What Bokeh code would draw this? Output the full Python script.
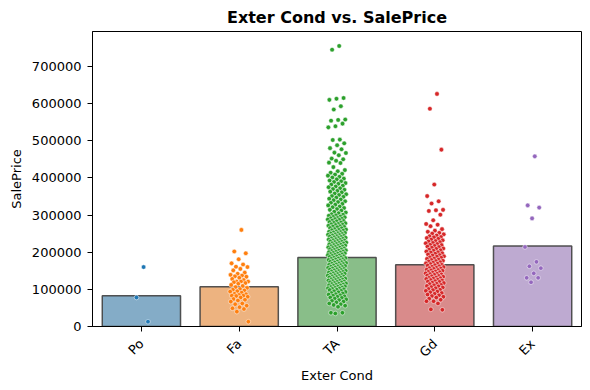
import math
import numpy as np
from bokeh.plotting import figure
from bokeh.models import ColumnDataSource, FixedTicker, Range1d, NumeralTickFormatter
from bokeh.embed import file_html
from bokeh.resources import INLINE

# ---- data (SalePrice values in thousands) ----
categories = ["Po", "Fa", "TA", "Gd", "Ex"]
mean_price_k = [82.6, 106.8, 186.0, 166.0, 217.0]

po_k = [160, 78, 13]

fa_k = [260, 202, 197, 181, 170, 167, 161, 160, 155, 151, 145, 142, 139, 137, 135,
        134, 131, 128, 125, 121, 121, 121, 119, 117, 115, 112, 109, 106, 104, 101,
        99, 97, 95, 94, 91, 88, 87, 85, 83, 83, 82, 80, 78, 74, 72, 70, 67, 62, 60,
        56, 52, 49, 47, 40, 13]

ta_k = [755, 745, 615, 613, 610, 593, 584, 557, 556, 554, 546, 539, 536,
        503, 502, 493, 488, 480, 477, 468, 467, 461, 452, 450, 446, 441, 440,
        429, 421, 418, 414, 411, 409, 406, 403, 401,
        398, 396, 393, 391, 389, 386, 384, 382, 379, 377, 375, 372, 370, 368, 365,
        363, 361, 358, 356, 354, 351, 349, 347, 344, 342, 340, 337, 335, 333, 330,
        328, 326, 323, 321, 319, 316, 314, 312, 309, 307, 305, 302, 301,
        299, 298, 296, 295, 294, 292, 291, 290, 289, 288, 287, 285, 284, 283, 281,
        280, 279, 278, 276, 275, 274, 273, 271, 270, 269, 268, 267, 265, 264, 262,
        261, 260, 259, 258, 256, 255, 254, 253, 252, 251, 250, 249, 248, 247, 246,
        245, 244, 243, 242, 241, 240, 239, 238, 237, 236, 235, 234, 233, 232, 231,
        230, 229, 228, 227, 226, 225, 224, 223, 222, 221, 220, 219, 218, 217, 216,
        215, 214, 213, 212, 211, 210, 209, 208, 207, 206, 205, 204, 203, 202, 201,
        200, 199, 198, 197, 196, 195, 194, 193, 192, 191, 190, 189, 188, 187, 186,
        185, 184, 183, 182, 181, 180, 179, 178, 177, 176, 175, 174, 173, 172, 171,
        170, 169, 168, 167, 166, 165, 164, 163, 162, 161, 160, 159, 158, 157, 156,
        155, 154, 153, 152, 151, 150, 149, 148, 147, 146, 145, 144, 143, 142, 141,
        140, 139, 138, 137, 136, 135, 134, 133, 132, 131, 130, 129, 128, 127, 126,
        125, 124, 123, 122, 121, 120, 119, 118, 117, 116, 115, 114, 113, 112, 111,
        110, 109, 108, 107, 106, 105, 104, 103, 102, 101, 100, 99, 98, 96, 95, 93,
        92, 90, 89, 87, 86, 84, 83, 81, 80, 78, 77, 75, 73, 71, 69, 67, 65, 62, 60,
        58, 56, 53, 37, 37, 35]

gd_k = [626, 586, 476, 382, 351, 337, 331, 314, 313, 311, 301, 286, 276, 274, 270,
        262, 258, 255, 252, 250, 248, 245, 243, 241, 240, 238, 236, 234, 232, 230,
        229, 227, 225, 224, 222, 220, 219, 217, 215, 214, 212, 210, 209, 207, 205,
        204, 202, 200, 199, 197, 196, 194, 192, 191, 189, 188, 186, 185, 183, 182,
        180, 179, 177, 176, 175, 173, 172, 170, 169, 168, 166, 165, 164, 162, 161,
        160, 158, 157, 156, 155, 153, 152, 151, 150, 148, 147, 146, 145, 143, 142,
        141, 140, 139, 137, 136, 135, 134, 132, 131, 130, 129, 128, 126, 125, 124,
        122, 121, 120, 118, 117, 115, 114, 112, 111, 109, 108, 106, 105, 103, 101,
        99, 98, 96, 94, 92, 90, 88, 86, 84, 82, 80, 78, 75, 72, 68, 68, 62, 46, 45]

ex_k = [458, 326, 320, 291, 214, 174, 162, 157, 143, 131, 131, 119]

y_ticks = [0, 100000, 200000, 300000, 400000, 500000, 600000, 700000]

# ---- styles ----
bar_fill = ["#3274a1", "#e1812c", "#3a923a", "#c03d3e", "#9372b2"]
point_color = ["#1f77b4", "#ff7f0e", "#2ca02c", "#d62728", "#9467bd"]
FONT = "DejaVu Sans"

p = figure(frame_width=489, frame_height=295, output_backend="svg", toolbar_location=None,
           x_range=Range1d(-0.5, 4.5), y_range=Range1d(0, 794000),
           min_border_left=92, min_border_right=1, min_border_top=24,
           min_border_bottom=50, title="Exter Cond vs. SalePrice")

p.title.text_font = FONT
p.title.text_font_style = "bold"
p.title.text_font_size = "16px"
p.title.align = "center"
p.title.text_color = "black"

xs = list(range(len(categories)))
bar_src = ColumnDataSource(dict(x=xs, top=[v * 1000 for v in mean_price_k], fill=bar_fill))
p.vbar(x="x", top="top", width=0.8, source=bar_src, fill_color="fill", fill_alpha=0.6,
       line_color="#404040", line_width=1.5, line_alpha=0.9)

series = [po_k, fa_k, ta_k, gd_k, ex_k]
for i, vals in enumerate(series):
    n = len(vals)
    frac = ((np.arange(n) + 1) * 0.6180339887) % 1.0
    xj = i + (frac - 0.5) * 0.19
    src = ColumnDataSource(dict(x=xj, y=[v * 1000 for v in vals]))
    p.scatter(x="x", y="y", source=src, size=4.6, fill_color=point_color[i],
              line_color="white", line_width=0.5)

p.xgrid.visible = False
p.ygrid.visible = False
p.outline_line_color = "black"
p.outline_line_alpha = 1
p.outline_line_width = 1

p.xaxis.ticker = FixedTicker(ticks=xs)
p.xaxis.major_label_overrides = {i: c for i, c in enumerate(categories)}
p.xaxis.major_label_orientation = math.pi / 4
p.yaxis.ticker = FixedTicker(ticks=y_ticks)
p.yaxis.formatter = NumeralTickFormatter(format="0")
p.xaxis.axis_label = "Exter Cond"
p.yaxis.axis_label = "SalePrice"
p.xaxis.major_label_standoff = 10
p.xaxis.axis_label_standoff = 0
p.yaxis.major_label_standoff = 6
p.yaxis.axis_label_standoff = 5

for ax in (p.xaxis, p.yaxis):
    ax.axis_label_text_font = FONT
    ax.axis_label_text_font_style = "normal"
    ax.axis_label_text_font_size = "13px"
    ax.axis_label_text_color = "black"
    ax.major_label_text_font = FONT
    ax.major_label_text_font_size = "13px"
    ax.major_label_text_color = "black"
    ax.minor_tick_line_color = None
    ax.major_tick_in = 0
    ax.major_tick_out = 5
    ax.major_tick_line_color = "black"
    ax.axis_line_color = "black"

open("out.html", "w").write(file_html(p, INLINE))
